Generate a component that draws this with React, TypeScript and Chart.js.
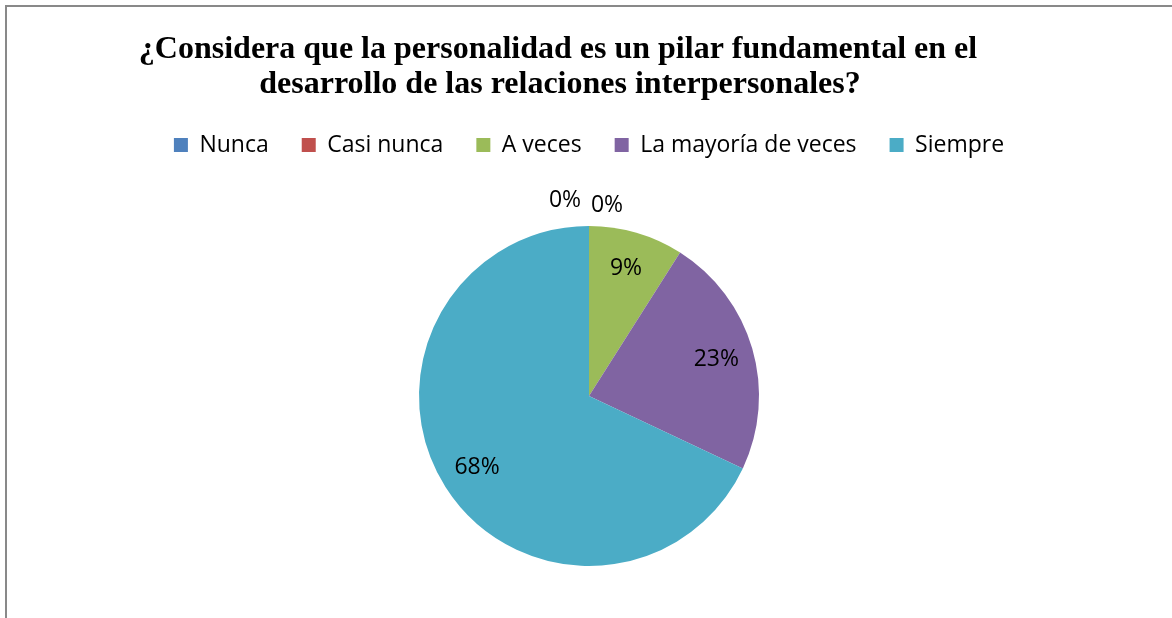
import React, { useEffect, useRef } from 'react';
import { Chart, registerables } from 'chart.js';

Chart.register(...registerables);

const titleLines = [
  '¿Considera que la personalidad es un pilar fundamental en el',
  'desarrollo de las relaciones interpersonales?',
];
const categories = ['Nunca', 'Casi nunca', 'A veces', 'La mayoría de veces', 'Siempre'];
const percentages = [0, 0, 9, 23, 68];
const colors = ['#4F81BD', '#C0504D', '#9BBB59', '#8064A2', '#4BACC6'];

const CANVAS_W = 1164;
const CANVAS_H = 640;
const LABEL_FONT = '23px "Open Sans"';

const titlePlugin = {
  id: 'customTitle',
  afterDraw(chart: any) {
    const ctx = chart.ctx;
    ctx.save();
    ctx.font = 'bold 32px "Liberation Serif"';
    ctx.fillStyle = '#000';
    ctx.textAlign = 'center';
    ctx.textBaseline = 'alphabetic';
    const cx = chart.width / 2 - 31;
    ctx.fillText(titleLines[0], cx, 51);
    ctx.fillText(titleLines[1], cx + 2, 86);
    ctx.restore();
  },
};

const labelPlugin = {
  id: 'sliceLabels',
  afterDatasetsDraw(chart: any) {
    const ctx = chart.ctx;
    const meta = chart.getDatasetMeta(0);
    const values = chart.data.datasets[0].data as number[];
    ctx.save();
    ctx.font = LABEL_FONT;
    ctx.fillStyle = '#000';
    ctx.textAlign = 'center';
    ctx.textBaseline = 'middle';
    let zeroCount = 0;
    meta.data.forEach((arc: any, i: number) => {
      const { x, y, startAngle, endAngle, outerRadius } = arc.getProps(
        ['x', 'y', 'startAngle', 'endAngle', 'outerRadius'],
        true
      );
      const mid = (startAngle + endAngle) / 2;
      const v = values[i];
      let lx: number;
      let ly: number;
      if (v > 0) {
        const r = outerRadius * 0.78;
        lx = x + Math.cos(mid) * r;
        ly = y + Math.sin(mid) * r;
      } else {
        const r = outerRadius + 24;
        lx = x + Math.cos(mid) * r + (zeroCount === 0 ? -24 : 18);
        ly = y + Math.sin(mid) * r + (zeroCount === 0 ? -2 : 3);
        zeroCount++;
      }
      ctx.fillText(v + '%', lx, ly);
    });
    ctx.restore();
  },
};

export default function App() {
  const ref = useRef<HTMLCanvasElement | null>(null);

  useEffect(() => {
    if (!ref.current) return;
    const chart = new Chart(ref.current, {
      type: 'pie',
      data: {
        labels: categories,
        datasets: [
          {
            data: percentages,
            backgroundColor: colors,
            borderWidth: 0,
            radius: 170,
          } as any,
        ],
      },
      options: {
        responsive: false,
        animation: false,
        layout: { padding: { top: 93.5, bottom: 21.5, left: 0, right: 0 } },
        plugins: {
          legend: {
            display: true,
            position: 'top',
            labels: {
              font: { family: 'Open Sans', size: 23 },
              color: '#000',
              boxWidth: 14,
              boxHeight: 14,
              padding: 33,
            },
          },
          title: { display: false },
          tooltip: { enabled: false },
        },
      },
      plugins: [titlePlugin, labelPlugin],
    });
    return () => chart.destroy();
  }, []);

  return (
    <div
      style={{
        position: 'fixed',
        left: 0,
        top: 0,
        width: 1172,
        height: 618,
        overflow: 'hidden',
        background: '#fff',
      }}
    >
      <div
        style={{
          position: 'absolute',
          left: 5,
          top: 5,
          width: 1250,
          height: 700,
          border: '2px solid #898989',
          boxSizing: 'border-box',
        }}
      />
      <div style={{ position: 'absolute', left: 7, top: 7, width: CANVAS_W, height: CANVAS_H }}>
        <canvas ref={ref} width={CANVAS_W} height={CANVAS_H} />
      </div>
    </div>
  );
}
